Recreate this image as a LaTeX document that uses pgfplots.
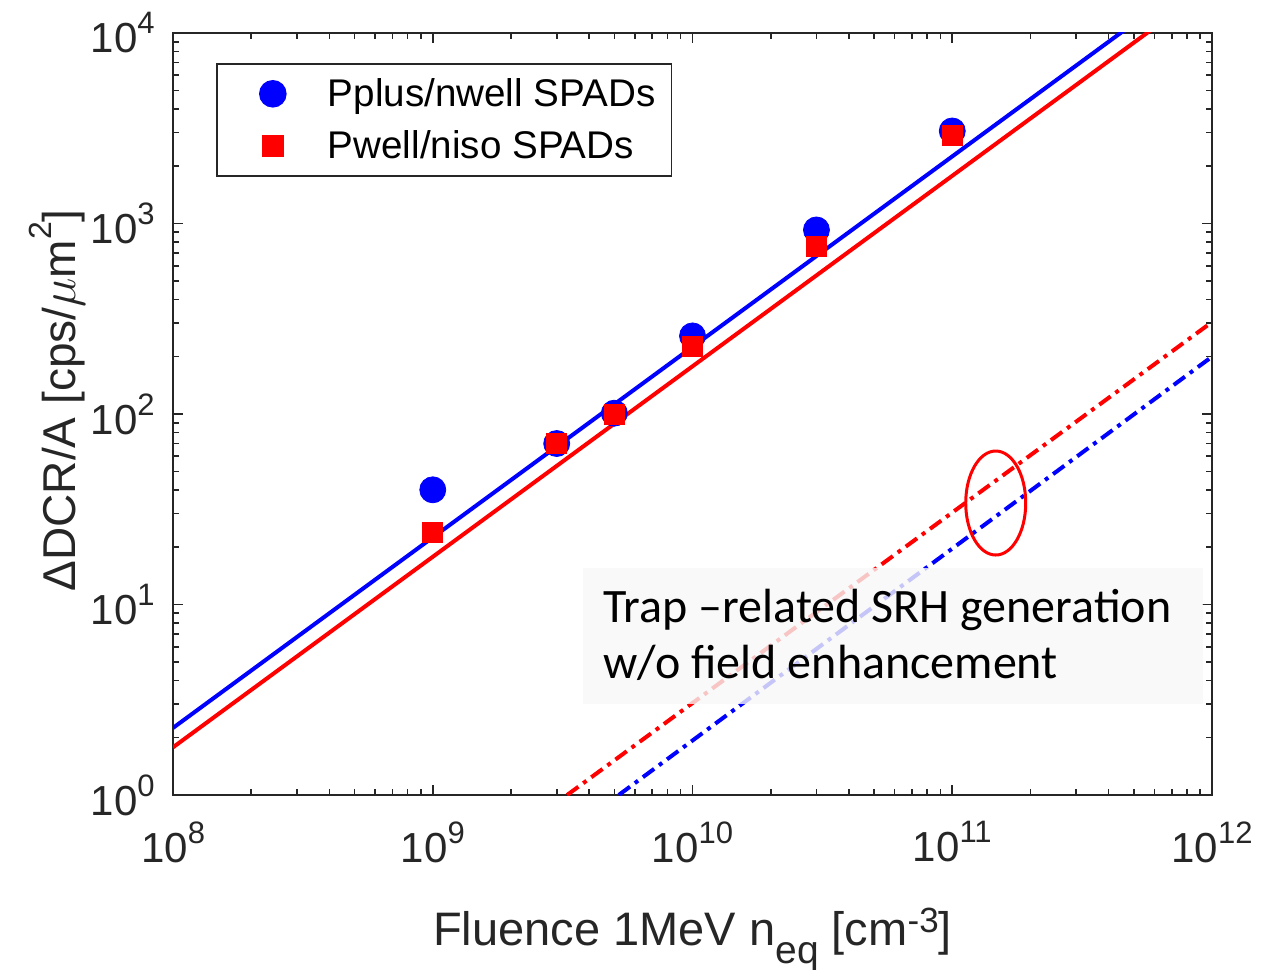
\documentclass[border=0pt]{standalone}
\usepackage{pgfplots}
\pgfplotsset{compat=1.18}
\usepackage{fontspec}
\setmainfont{Liberation Sans}
\newfontfamily\calibri{Carlito}
\definecolor{mblue}{rgb}{0,0,1}
\definecolor{mred}{rgb}{1,0,0}
\definecolor{axgray}{rgb}{0.15,0.15,0.15}
\newcommand\ex[1]{10\raisebox{9.5pt}{\fontsize{15.5}{15.5}\selectfont #1}}
\begin{document}
\begin{tikzpicture}
\useasboundingbox (0,0) rectangle (640.5pt,485pt);
\begin{axis}[
  at={(86.5pt,87.5pt)}, anchor=south west,
  scale only axis, width=519.5pt, height=381pt,
  xmode=log, ymode=log, log basis x=10, log basis y=10,
  xmin=1e8, xmax=1e12, ymin=1, ymax=1e4,
  xtick={1e8,1e9,1e10,1e11,1e12},
  xticklabels={\ex{8},\ex{9},\ex{10},\ex{11},\ex{12}},
  ytick={1,10,100,1000,10000},
  yticklabels={\ex{0},\ex{1},\ex{2},\ex{3},\ex{4}},
  minor xtick={2e8,3e8,4e8,5e8,6e8,7e8,8e8,9e8,2e9,3e9,4e9,5e9,6e9,7e9,8e9,9e9,2e10,3e10,4e10,5e10,6e10,7e10,8e10,9e10,2e11,3e11,4e11,5e11,6e11,7e11,8e11,9e11},
  minor ytick={2,3,4,5,6,7,8,9,20,30,40,50,60,70,80,90,200,300,400,500,600,700,800,900,2000,3000,4000,5000,6000,7000,8000,9000},
  tick align=inside,
  axis line style={axgray, line width=1pt},
  every tick/.style={axgray, line width=0.8pt},
  major tick length=5pt, minor tick length=3pt,
  ticklabel style={font=\fontsize{21}{21}\selectfont, text=axgray, inner sep=0pt},
  xticklabel style={anchor=north, yshift=-13pt},
  yticklabel style={anchor=east, xshift=-9pt},
  xlabel={Fluence 1MeV n\raisebox{-9pt}{\fontsize{19.5}{19.5}\selectfont eq} [cm\raisebox{6.5pt}{\fontsize{17.5}{17.5}\selectfont -3}]},
  ylabel={ΔDCR/A [cps/$\mu$m\raisebox{12pt}{\fontsize{16}{16}\selectfont 2}]},
  xlabel style={at={(axis description cs:0.5,-0.1969)}, anchor=base, font=\fontsize{23.5}{23.5}\selectfont, text=axgray},
  ylabel style={at={(axis description cs:-0.0943,0.518)}, anchor=base, font=\fontsize{23}{23}\selectfont, text=axgray},
  legend style={at={(axis description cs:0.0414,0.9606)}, anchor=north west,
    draw=axgray, line width=0.8pt, fill=white,
    font=\fontsize{19.3}{22}\selectfont,
    inner xsep=8pt, inner ysep=7.25pt, row sep=10.5pt,
    nodes={inner sep=0pt},
    /tikz/every odd column/.append style={column sep=7.5pt}},
  legend cell align=left,
  legend image code/.code={\path[draw=none, fill=none] (0pt,0pt) (40pt,0pt);
    \draw[mark repeat=2,mark phase=2,#1] plot coordinates {(0pt,0pt)(20pt,0pt)(40pt,0pt)};},
]
\addplot[only marks, mark=*, mark size=6.5pt, color=mblue, mark options={fill=mblue, draw=mblue}]
  coordinates {(1e9,40) (3e9,70) (5e9,101) (1e10,257) (3e10,925) (1e11,3060)};
\addlegendentry{Pplus/nwell SPADs}
\addplot[only marks, mark=square*, mark size=5pt, color=mred, mark options={fill=mred, draw=mred}]
  coordinates {(1e9,24) (3e9,70) (5e9,100) (1e10,227) (3e10,762) (1e11,2915)};
\addlegendentry{Pwell/niso SPADs}
\addplot[mblue, line width=2pt, forget plot] coordinates {(1e8,2.25) (1e12,22500)};
\addplot[mred, line width=2pt, forget plot] coordinates {(1e8,1.78) (1e12,17800)};
\addplot[mred, line width=2pt, dash pattern=on 7pt off 3pt on 2pt off 3pt, forget plot] coordinates {(3.29e9,1) (1e12,304)};
\addplot[mblue, line width=2pt, dash pattern=on 7pt off 3pt on 2pt off 3pt, forget plot] coordinates {(5.2e9,1) (1e12,200)};
\fill[gray!6, fill opacity=0.8] (axis description cs:0.3946,0.2979) rectangle (axis description cs:0.9913,0.1194);
\node[anchor=base west, font=\calibri\fontsize{24}{28}\selectfont, text=black, inner sep=0pt] at (axis description cs:0.4139,0.2270) {Trap –related SRH generation};
\node[anchor=base west, font=\calibri\fontsize{24}{28}\selectfont, text=black, inner sep=0pt] at (axis description cs:0.4139,0.1535) {w/o field enhancement};
\draw[mred, line width=1.5pt] (axis cs:1.47e11,34.1) ellipse [x radius=15pt, y radius=26pt];
\end{axis}
\end{tikzpicture}
\end{document}
